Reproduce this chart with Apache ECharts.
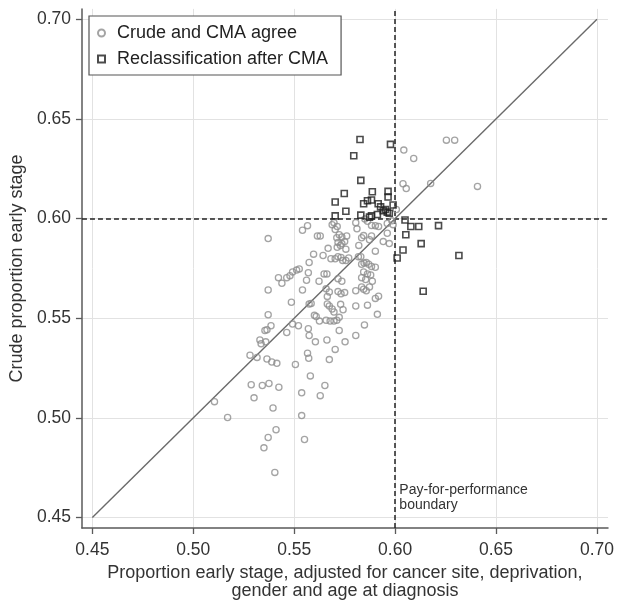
<!DOCTYPE html>
<html>
<head>
<meta charset="utf-8">
<script src="https://cdn.jsdelivr.net/npm/echarts@6/dist/echarts.min.js"></script>
<style>
html,body{margin:0;padding:0;background:#fff;}
#chart{width:617px;height:605px;}
</style>
</head>
<body>
<div id="chart"></div>
<script>
// ---- data ----
const tickValues = [0.45, 0.50, 0.55, 0.60, 0.65, 0.70];
const boundary = 0.60;
const diagonal = [[0.45, 0.45], [0.70, 0.70]];
const seriesNames = ['Crude and CMA agree', 'Reclassification after CMA'];
const annotationText = 'Pay-for-performance\nboundary';

// Crude and CMA agree: [adjusted, crude]
const agreeX = [
 .5105,.5170,.5281,.5287,.5301,.5316,.5330,.5336,.5342,.5350,.5355,.5365,.5359,.5371,.5371,.5371,.5365,.5375,.5371,.5385,
 .5389,.5395,.5404,.5410,.5414,.5424,.5422,.5439,.5463,.5479,.5492,.5512,.5525,.5486,.5463,.5492,.5521,.5506,.5537,.5537,
 .5551,.5541,.5541,.5566,.5561,.5570,.5574,.5570,.5574,.5584,.5566,.5572,.5574,.5580,.5596,.5600,.5609,.5605,.5615,.5629,
 .5623,.5625,.5629,.5643,.5648,.5662,.5652,.5658,.5674,.5664,.5674,.5664,.5658,.5678,.5662,.5674,.5668,.5682,.5688,.5697,
 .5688,.5697,.5697,.5711,.5723,.5703,.5703,.5713,.5703,.5717,.5732,.5711,.5723,.5736,.5760,.5717,.5736,.5750,.5713,.5729,
 .5756,.5717,.5736,.5717,.5732,.5750,.5723,.5730,.5742,.5740,.5756,.5770,.5752,.5805,.5805,.5805,.5818,.5830,.5820,.5805,
 .5811,.5834,.5844,.5834,.5846,.5857,.5869,.5883,.5834,.5854,.5834,.5844,.5857,.5873,.5887,.5844,.5863,.5879,.5848,.5863,
 .5883,.5902,.5918,.5863,.5850,.5902,.5902,.5902,.5918,.5912,.5941,.5961,.5961,.5971,.5984,.5990,.5873,.5883,.6006,.6043,
 .6092,.6254,.6295,.6039,.6055,.6176,.6408
];
const agreeY = [
 .5081,.5001,.5314,.5166,.5100,.5303,.5390,.5371,.5162,.4849,.5438,.5442,.5381,.5899,.5641,.5517,.5295,.5172,.4901,.5462,
 .5280,.5049,.4726,.4940,.5273,.5153,.5703,.5675,.5703,.5713,.5732,.5741,.5747,.5580,.5428,.5470,.5462,.5267,.5125,.5011,
 .4891,.5641,.5941,.5964,.5690,.5728,.5779,.5447,.5571,.5574,.5324,.5299,.5413,.5210,.5821,.5514,.5508,.5381,.5912,.5912,
 .5685,.5485,.5111,.5814,.5722,.5722,.5162,.5647,.5631,.5571,.5561,.5609,.5489,.5485,.5390,.5292,.5850,.5798,.5969,.5979,
 .5546,.5531,.5485,.5489,.5504,.5343,.5945,.5960,.5798,.5808,.5804,.5903,.5918,.5907,.5912,.5880,.5874,.5884,.5855,.5865,
 .5846,.5698,.5685,.5633,.5622,.5628,.5438,.5569,.5542,.5789,.5789,.5802,.5381,.5637,.5561,.5413,.5808,.5808,.5865,.5979,
 .5948,.5903,.5914,.5770,.5776,.5779,.5770,.5759,.5703,.5694,.5656,.5645,.5637,.5656,.5685,.5732,.5722,.5717,.5466,.5565,
 .5965,.5964,.5960,.5986,.5998,.5836,.5755,.5599,.5610,.5519,.5884,.5975,.5926,.5874,.5988,.5969,.5893,.5912,.6045,.6343,
 .6301,.6393,.6393,.6174,.6150,.6176,.6161
];

// Reclassification after CMA: [adjusted, crude]
const reclassX = [
 .5826,.5977,.5795,.5830,.5748,.5703,.5703,.5756,.5830,.5887,.5965,.5965,.5844,.5863,.5883,.5916,.5928,.5941,.5951,.5961,
 .5990,.5873,.5883,.5912,.5971,.6049,.6053,.6078,.6117,.6215,.6039,.6010,.6129,.6316,.6139
];
const reclassY = [
 .6396,.6372,.6315,.6191,.6125,.6083,.6013,.6036,.6017,.6134,.6136,.6108,.6074,.6089,.6093,.6074,.6058,.6039,.6045,.6032,
 .6068,.6007,.6013,.6020,.6026,.5992,.5918,.5960,.5960,.5964,.5842,.5802,.5874,.5814,.5635
];

// ---- chart ----
const FONT = '"Liberation Sans", Arial, sans-serif';
const zip = (xs, ys) => xs.map((x, i) => [x, ys[i]]);

const gridLineData = [];
tickValues.forEach(v => { gridLineData.push({xAxis: v}); gridLineData.push({yAxis: v}); });

const axisCommon = {
  type: 'value',
  axisLine: {show: true, lineStyle: {color: '#5a5a5a', width: 1.5}},
  axisTick: {show: true, inside: false, length: 6, lineStyle: {color: '#5a5a5a', width: 1.3}, customValues: tickValues},
  axisLabel: {customValues: tickValues, formatter: v => v.toFixed(2), color: '#333', fontFamily: FONT, fontSize: 17.5},
  splitLine: {show: false},
  nameLocation: 'middle',
  nameTextStyle: {color: '#333', fontFamily: FONT, fontSize: 18}
};

const chart = echarts.init(document.getElementById('chart'), null, {renderer: 'canvas'});
chart.setOption({
  animation: false,
  backgroundColor: '#fff',
  grid: {left: 81.6, right: 9, top: 8.9, bottom: 66.5, containLabel: false},
  xAxis: Object.assign({}, axisCommon, {
    min: 0.44485, max: 0.70545,
    name: 'Proportion early stage, adjusted for cancer site, deprivation,\ngender and age at diagnosis',
    nameGap: 36,
    axisLabel: Object.assign({}, axisCommon.axisLabel, {margin: 13}),
    nameTextStyle: Object.assign({}, axisCommon.nameTextStyle, {lineHeight: 18})
  }),
  yAxis: Object.assign({}, axisCommon, {
    min: 0.44469, max: 0.70516,
    name: 'Crude proportion early stage',
    nameGap: 54,
    axisLabel: Object.assign({}, axisCommon.axisLabel, {margin: 11})
  }),
  legend: {
    orient: 'vertical',
    left: 89, top: 16,
    padding: [8, 13, 7, 8],
    itemGap: 8,
    itemWidth: 7, itemHeight: 7,
    borderColor: '#555', borderWidth: 1.2,
    backgroundColor: '#fff',
    z: 10,
    textStyle: {color: '#222', fontFamily: FONT, fontSize: 18, padding: [0, 0, 0, 7]},
    data: seriesNames
  },
  series: [
    {
      type: 'line', name: 'grid', silent: true, z: 0, data: [], symbol: 'none',
      markLine: {silent: true, z: 0, symbol: 'none', animation: false, label: {show: false},
        lineStyle: {color: '#e2e2e2', width: 1, type: 'solid'}, data: gridLineData}
    },
    {
      type: 'line', name: 'diag', silent: true, z: 2, data: diagonal, symbol: 'none',
      lineStyle: {color: '#6a6a6a', width: 1.4},
      markLine: {silent: true, z: 2, symbol: 'none', animation: false, label: {show: false},
        lineStyle: {color: '#222', width: 1.5, type: [5, 3]},
        data: [{xAxis: boundary}, {yAxis: boundary}]},
      markPoint: {silent: true, z: 2, symbol: 'circle', symbolSize: 0,
        data: [{coord: [boundary + 0.0021, 0.4597], value: 0}],
        label: {show: true, position: 'inside', formatter: annotationText, align: 'left',
          color: '#333', fontFamily: FONT, fontSize: 14, lineHeight: 15}}
    },
    {
      type: 'scatter', name: seriesNames[0], z: 3,
      data: zip(agreeX, agreeY),
      symbol: 'circle', symbolSize: 6.2,
      itemStyle: {color: 'rgba(0,0,0,0)', borderColor: '#8d8d8d', borderWidth: 1.3}
    },
    {
      type: 'scatter', name: seriesNames[1], z: 4,
      data: zip(reclassX, reclassY),
      symbol: 'rect', symbolSize: 6,
      itemStyle: {color: 'rgba(0,0,0,0)', borderColor: '#1e1e1e', borderWidth: 1.6}
    }
  ]
});
</script>
</body>
</html>
